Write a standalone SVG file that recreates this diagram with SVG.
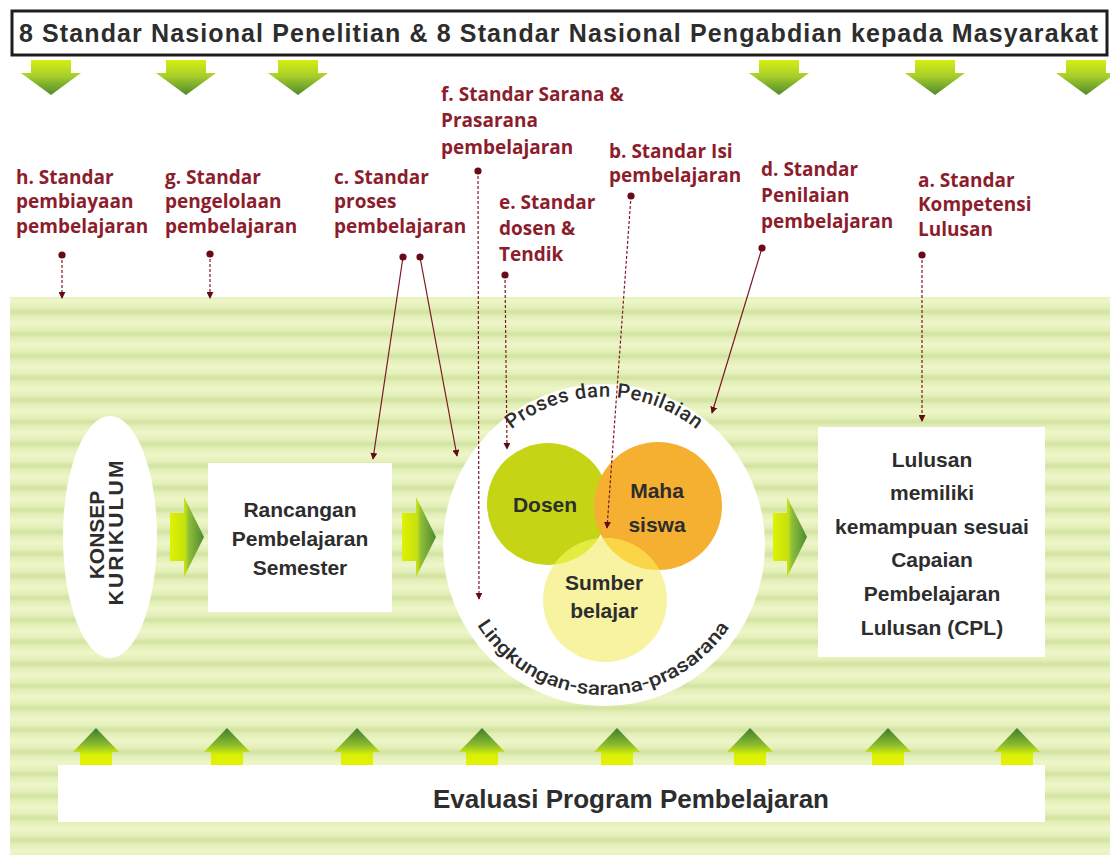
<svg xmlns="http://www.w3.org/2000/svg" xmlns:xlink="http://www.w3.org/1999/xlink" width="1110" height="859" viewBox="0 0 1110 859">
<defs>
<style>
.lab{font-family:"Open Sans","Liberation Sans",sans-serif;font-weight:bold;font-size:19px;fill:#8c1d2d}
.node{font-family:"Liberation Sans",Arial,sans-serif;font-weight:bold;fill:#2d2d2d}
.con{fill:none;stroke:#7d1824;stroke-width:1.2}
.dash{stroke-dasharray:3,2}
.arc{font-family:Roboto,"Liberation Sans",sans-serif;font-weight:500;fill:#2d2d2d}
</style>
<linearGradient id="stripeG" x1="0" y1="0" x2="0" y2="1">
<stop offset="0" stop-color="#eef6c8"/>
<stop offset="0.3" stop-color="#e3efb9"/>
<stop offset="0.5" stop-color="#d1e3a0"/>
<stop offset="0.7" stop-color="#e3efb9"/>
<stop offset="1" stop-color="#eef6c8"/>
</linearGradient>
<pattern id="stripes" patternUnits="userSpaceOnUse" x="0" y="301" width="1110" height="22">
<rect width="1110" height="22" fill="url(#stripeG)"/>
</pattern>
<linearGradient id="downG" x1="0" y1="0" x2="0" y2="1">
<stop offset="0" stop-color="#d6ee12"/>
<stop offset="0.45" stop-color="#a8cf2a"/>
<stop offset="1" stop-color="#4f8a2c"/>
</linearGradient>
<linearGradient id="upG" x1="0" y1="0" x2="0" y2="1">
<stop offset="0" stop-color="#3f7a2e"/>
<stop offset="0.45" stop-color="#8cbd2e"/>
<stop offset="0.7" stop-color="#d8ef06"/>
<stop offset="1" stop-color="#e6f300"/>
</linearGradient>
<linearGradient id="rightG" x1="0" y1="0" x2="1" y2="0">
<stop offset="0" stop-color="#e0f200"/>
<stop offset="0.45" stop-color="#c4e010"/>
<stop offset="0.55" stop-color="#8fbf3a"/>
<stop offset="1" stop-color="#4c8a2e"/>
</linearGradient>
<path id="downArrow" d="M-20,60 H20 V73 H30 L0,95 L-30,73 H-20 Z" fill="url(#downG)"/>
<path id="upArrow" d="M0,728 L23,752 H16 V766 H-16 V752 H-23 Z" fill="url(#upG)"/>
<path id="rightArrow" d="M0,513 H14 V497 L34,537 L14,577 V561 H0 Z" fill="url(#rightG)"/>
<marker id="arr" viewBox="0 0 8 8" refX="7" refY="4" markerWidth="7" markerHeight="7" markerUnits="userSpaceOnUse" orient="auto">
<path d="M0,0 L8,4 L0,8 Z" fill="#5e0c16"/>
</marker>
<marker id="dot" viewBox="0 0 8 8" refX="4" refY="4" markerWidth="8" markerHeight="8" markerUnits="userSpaceOnUse">
<circle cx="4" cy="4" r="3.6" fill="#6a0a18"/>
</marker>
<clipPath id="clipSumber"><circle cx="605" cy="600" r="62"/></clipPath>
<path id="topArc" d="M499.3,440.3 A148,148 0 0 1 708.7,440.3"/>
<path id="botArc" d="M470.3,613.1 A150,150 0 0 0 736.4,615.4"/>
</defs>

<rect width="1110" height="859" fill="#ffffff"/>

<g id="background">
<rect x="10" y="297" width="1100" height="558" fill="url(#stripes)"/>
</g>

<g id="title">
<rect x="12" y="11" width="1095" height="44" fill="#ffffff" stroke="#1e1e1e" stroke-width="3"/>
<text x="19" y="42" class="node" font-size="25" fill="#1a1a1a" textLength="1079" lengthAdjust="spacing">8 Standar Nasional Penelitian &amp; 8 Standar Nasional Pengabdian kepada Masyarakat</text>
</g>

<g id="down-arrows">
<use xlink:href="#downArrow" transform="translate(51,0)"/>
<use xlink:href="#downArrow" transform="translate(186,0)"/>
<use xlink:href="#downArrow" transform="translate(298,0)"/>
<use xlink:href="#downArrow" transform="translate(779,0)"/>
<use xlink:href="#downArrow" transform="translate(935,0)"/>
<use xlink:href="#downArrow" transform="translate(1086,0)"/>
</g>

<g id="label-h"><text class="lab" x="16" y="184">h. Standar</text><text class="lab" x="16" y="208">pembiayaan</text><text class="lab" x="16" y="233">pembelajaran</text></g>
<g id="label-g"><text class="lab" x="165" y="184">g. Standar</text><text class="lab" x="165" y="208">pengelolaan</text><text class="lab" x="165" y="233">pembelajaran</text></g>
<g id="label-c"><text class="lab" x="334" y="184">c. Standar</text><text class="lab" x="334" y="208">proses</text><text class="lab" x="334" y="233">pembelajaran</text></g>
<g id="label-f"><text class="lab" x="441" y="101">f. Standar Sarana &amp;</text><text class="lab" x="441" y="127">Prasarana</text><text class="lab" x="441" y="154">pembelajaran</text></g>
<g id="label-e"><text class="lab" x="499" y="209">e. Standar</text><text class="lab" x="499" y="235">dosen &amp;</text><text class="lab" x="499" y="261">Tendik</text></g>
<g id="label-b"><text class="lab" x="609" y="158">b. Standar Isi</text><text class="lab" x="609" y="182">pembelajaran</text></g>
<g id="label-d"><text class="lab" x="761" y="176">d. Standar</text><text class="lab" x="761" y="202">Penilaian</text><text class="lab" x="761" y="228">pembelajaran</text></g>
<g id="label-a"><text class="lab" x="918" y="187">a. Standar</text><text class="lab" x="918" y="211">Kompetensi</text><text class="lab" x="918" y="236">Lulusan</text></g>

<g id="konsep-kurikulum">
<ellipse cx="110" cy="537" rx="47" ry="121" fill="#ffffff"/>
<text class="node" font-size="21" text-anchor="middle" transform="translate(104,535) rotate(-90)">KONSEP</text>
<text class="node" font-size="21" text-anchor="middle" transform="translate(123,533) rotate(-90)" textLength="145" lengthAdjust="spacing">KURIKULUM</text>
</g>

<g id="flow-arrows">
<use xlink:href="#rightArrow" transform="translate(170,0)"/>
<use xlink:href="#rightArrow" transform="translate(402,0)"/>
<use xlink:href="#rightArrow" transform="translate(773,0)"/>
</g>

<g id="rps">
<rect x="208" y="463" width="184" height="149" fill="#ffffff"/>
<text class="node" font-size="21" text-anchor="middle" x="300" y="517">Rancangan</text>
<text class="node" font-size="21" text-anchor="middle" x="300" y="546">Pembelajaran</text>
<text class="node" font-size="21" text-anchor="middle" x="300" y="575">Semester</text>
</g>

<g id="proses-penilaian">
<circle cx="604" cy="545" r="161" fill="#ffffff"/>
<text class="arc" font-size="20"><textPath xlink:href="#topArc" startOffset="50%" text-anchor="middle" textLength="200" lengthAdjust="spacing">Proses dan Penilaian</textPath></text>
<text class="arc" font-size="19"><textPath xlink:href="#botArc" startOffset="13.6" textLength="123" lengthAdjust="spacingAndGlyphs">Lingkungan-</textPath></text>
<text class="arc" font-size="19"><textPath xlink:href="#botArc" startOffset="136.6" textLength="76" lengthAdjust="spacingAndGlyphs">sarana-</textPath></text>
<text class="arc" font-size="19"><textPath xlink:href="#botArc" startOffset="212.6" textLength="101" lengthAdjust="spacingAndGlyphs">prasarana</textPath></text>
</g>

<g id="dosen">
<circle cx="548" cy="504" r="61" fill="#c6d416"/>
</g>
<g id="mahasiswa">
<circle cx="658" cy="506" r="64" fill="#f5b031"/>
</g>
<g id="sumber-belajar">
<circle cx="605" cy="600" r="62" fill="#f7f3a0"/>
<g clip-path="url(#clipSumber)">
<circle cx="548" cy="504" r="61" fill="#e2ec3c"/>
<circle cx="658" cy="506" r="64" fill="#fad646"/>
</g>
<text class="node" font-size="21" text-anchor="middle" x="604" y="590">Sumber</text>
<text class="node" font-size="21" text-anchor="middle" x="604" y="618">belajar</text>
</g>
<g id="mahasiswa-label">
<text class="node" font-size="21" text-anchor="middle" x="657" y="498">Maha</text>
<text class="node" font-size="21" text-anchor="middle" x="657" y="532">siswa</text>
</g>
<g id="dosen-label"><text class="node" font-size="21" text-anchor="middle" x="545" y="512">Dosen</text></g>

<g id="cpl">
<rect x="818" y="427" width="227" height="230" fill="#ffffff"/>
<text class="node" font-size="21" text-anchor="middle" x="932" y="467">Lulusan</text>
<text class="node" font-size="21" text-anchor="middle" x="932" y="500">memiliki</text>
<text class="node" font-size="21" text-anchor="middle" x="932" y="534">kemampuan sesuai</text>
<text class="node" font-size="21" text-anchor="middle" x="932" y="567">Capaian</text>
<text class="node" font-size="21" text-anchor="middle" x="932" y="601">Pembelajaran</text>
<text class="node" font-size="21" text-anchor="middle" x="932" y="635">Lulusan (CPL)</text>
</g>

<g id="up-arrows">
<use xlink:href="#upArrow" transform="translate(96,0)"/>
<use xlink:href="#upArrow" transform="translate(227,0)"/>
<use xlink:href="#upArrow" transform="translate(357,0)"/>
<use xlink:href="#upArrow" transform="translate(482,0)"/>
<use xlink:href="#upArrow" transform="translate(617,0)"/>
<use xlink:href="#upArrow" transform="translate(750,0)"/>
<use xlink:href="#upArrow" transform="translate(888,0)"/>
<use xlink:href="#upArrow" transform="translate(1017,0)"/>
</g>

<g id="evaluasi">
<rect x="58" y="765" width="987" height="57" fill="#ffffff"/>
<text class="node" font-size="26" text-anchor="middle" x="631" y="808">Evaluasi Program Pembelajaran</text>
</g>

<g id="connectors">
<path class="con dash" d="M62,255 L62,298" marker-start="url(#dot)" marker-end="url(#arr)"/>
<path class="con dash" d="M210,254 L210,298" marker-start="url(#dot)" marker-end="url(#arr)"/>
<path class="con" d="M403,257 L373,459" marker-start="url(#dot)" marker-end="url(#arr)"/>
<path class="con" d="M420,257 L457,456" marker-start="url(#dot)" marker-end="url(#arr)"/>
<path class="con dash" d="M478,171 L479,599" marker-start="url(#dot)" marker-end="url(#arr)"/>
<path class="con dash" d="M505,275 L507,449" marker-start="url(#dot)" marker-end="url(#arr)"/>
<path class="con dash" d="M631,196 L607,528" marker-start="url(#dot)" marker-end="url(#arr)"/>
<path class="con" d="M762,248 L712,413" marker-start="url(#dot)" marker-end="url(#arr)"/>
<path class="con dash" d="M922,255 L922,421" marker-start="url(#dot)" marker-end="url(#arr)"/>
</g>
</svg>
